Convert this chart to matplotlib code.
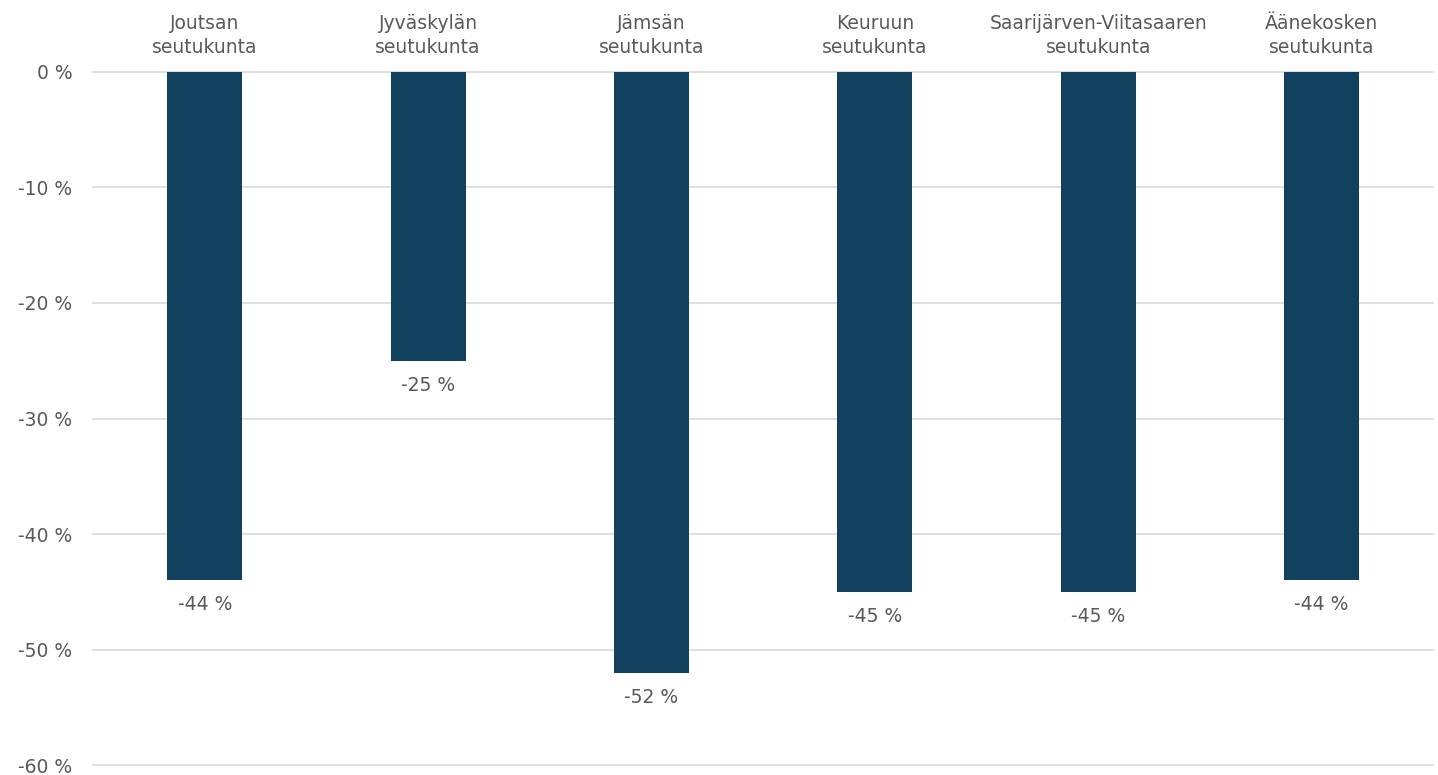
import matplotlib.pyplot as plt

plt.rcParams['font.family'] = ['DejaVu Sans']

regions = ['Joutsan\nseutukunta', 'Jyväskylän\nseutukunta', 'Jämsän\nseutukunta',
	'Keuruun\nseutukunta', 'Saarijärven-Viitasaaren\nseutukunta', 'Äänekosken\nseutukunta']
change_pct = [-44, -25, -52, -45, -45, -44]
yticks = [0, -10, -20, -30, -40, -50, -60]

text_color = '#595959'
bar_color = '#12405F'

fig = plt.figure(figsize=(14.38, 7.75), dpi=100)
ax = fig.add_axes([0.0647, 0.0129, 0.932, 0.8942])

x = range(len(regions))
ax.bar(x, change_pct, width=0.335, color=bar_color, zorder=3)

for xi, v in zip(x, change_pct):
	ax.annotate('%d %%' % v, (xi, v), xytext=(0, -11), textcoords='offset points',
		ha='center', va='top', fontsize=13.5, color=text_color)

for xi, name in zip(x, regions):
	ax.annotate(name, (xi, 0), xytext=(0, 11), textcoords='offset points',
		ha='center', va='bottom', fontsize=13.5, color=text_color, linespacing=1.3)

ax.set_xlim(-0.5, len(regions) - 0.5)
ax.set_ylim(-60, 0)
ax.set_yticks(yticks)
ax.set_yticklabels(['%d %%' % t for t in yticks], fontsize=13.5, color=text_color)
ax.tick_params(axis='y', length=0, pad=15)
ax.set_xticks([])
ax.grid(axis='y', color='#d9d9d9', linewidth=1.2, zorder=0)
for line in ax.get_ygridlines():
	line.set_clip_on(False)
for s in ax.spines.values():
	s.set_visible(False)

fig.savefig('out.png', dpi=100)
